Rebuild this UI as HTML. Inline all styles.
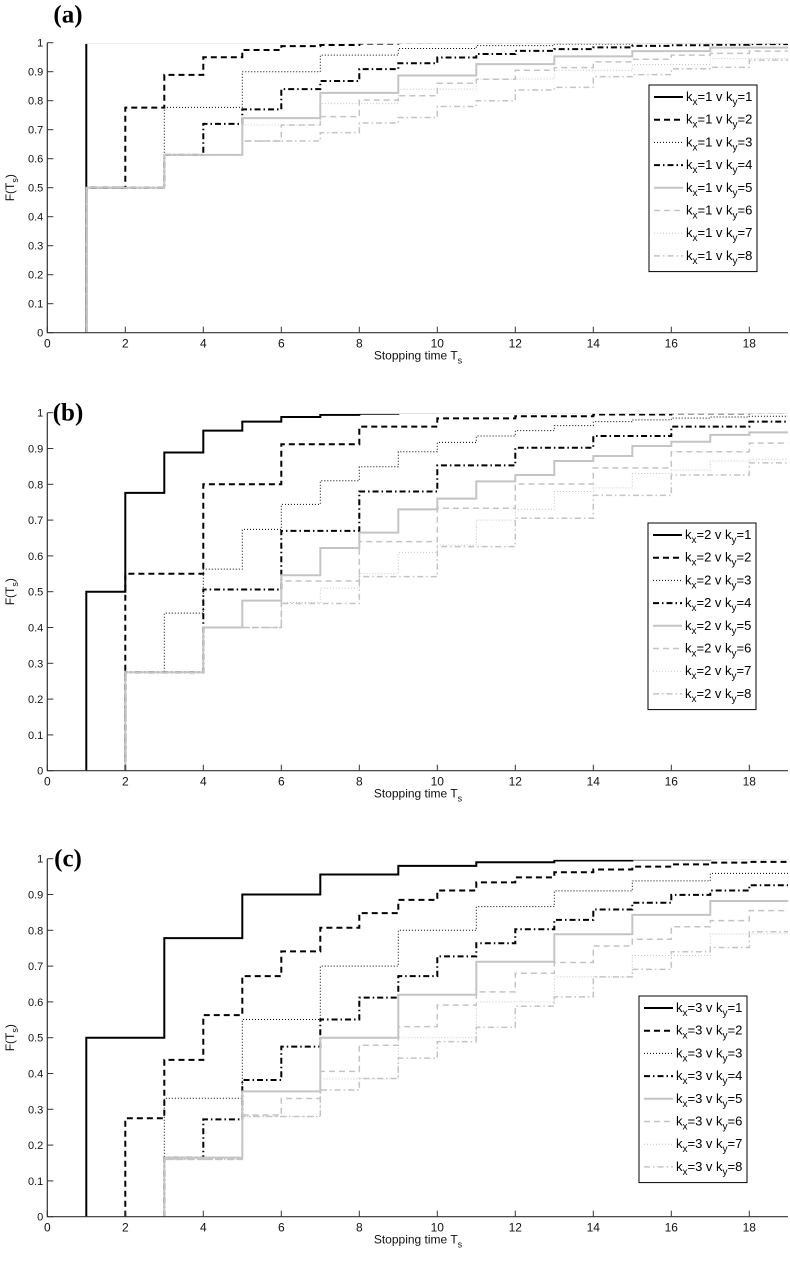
<!DOCTYPE html>
<html><head><meta charset="utf-8"><style>
html,body{margin:0;padding:0;background:#fff}
svg{display:block}
text{font-family:"Liberation Sans",sans-serif}
text.plabel{font-family:"Liberation Serif",serif;font-weight:bold}
</style></head><body>
<svg id="fig" width="790" height="1263" viewBox="0 0 790 1263" xmlns="http://www.w3.org/2000/svg"><defs id="defs"></defs></svg>
<script>
// ---- data (index i -> value of F on [t, t+1), t = i+1) ----
const xTicks = [0,2,4,6,8,10,12,14,16,18];
const yTicks = [0,0.1,0.2,0.3,0.4,0.5,0.6,0.7,0.8,0.9,1];
const yTickLabels = ["0","0.1","0.2","0.3","0.4","0.5","0.6","0.7","0.8","0.9","1"];

const A1 = [1,1,1,1,1,1,1,1,1,1,1,1,1,1,1,1,1,1];
const A2 = [.5,.776,.889,.95,.975,.988,.992,.997,.999,1,1,1,1,1,1,1,1,1];
const A3 = [.5,.5,.777,.777,.9,.9,.957,.957,.98,.98,.99,.99,.995,.995,.998,.998,.999,.999];
const A4 = [.5,.5,.613,.72,.77,.84,.868,.909,.929,.949,.961,.972,.978,.984,.989,.991,.993,.995];
const A5 = [.5,.5,.613,.613,.74,.74,.827,.827,.887,.887,.926,.926,.953,.953,.971,.971,.983,.983];
const A6 = [.5,.5,.613,.613,.661,.716,.745,.802,.817,.86,.874,.905,.914,.934,.943,.957,.963,.971];
const A7 = [.5,.5,.613,.613,.716,.716,.79,.79,.84,.84,.875,.875,.905,.905,.925,.925,.945,.945];
const A8 = [.5,.5,.613,.613,.661,.661,.69,.723,.742,.78,.8,.837,.846,.883,.89,.91,.915,.94];

const B1 = [.5,.776,.889,.95,.975,.988,.994,.997,.999,1,1,1,1,1,1,1,1,1];
const B2 = [0,.55,.55,.8,.8,.912,.912,.961,.961,.984,.984,.99,.99,.995,.995,.998,.998,.999];
const B3 = [0,.275,.44,.563,.674,.744,.81,.849,.891,.917,.935,.95,.964,.975,.98,.985,.988,.99];
const B4 = [0,.275,.275,.506,.506,.67,.67,.78,.78,.853,.853,.902,.902,.935,.935,.961,.961,.975];
const B5 = [0,.275,.275,.4,.475,.546,.622,.665,.73,.76,.808,.826,.865,.879,.907,.919,.938,.945];
const B6 = [0,.275,.275,.4,.4,.53,.53,.64,.64,.733,.733,.801,.801,.846,.846,.891,.891,.915];
const B7 = [0,.275,.275,.4,.4,.47,.51,.55,.61,.63,.7,.73,.78,.79,.83,.84,.865,.87];
const B8 = [0,.275,.275,.4,.4,.467,.467,.542,.542,.626,.626,.705,.705,.769,.769,.826,.826,.86];

const C1 = [.5,.5,.778,.778,.9,.9,.956,.956,.98,.98,.99,.99,.995,.995,.998,.998,1,1];
const C2 = [0,.275,.438,.563,.672,.741,.807,.848,.885,.911,.934,.948,.962,.97,.978,.984,.989,.991];
const C3 = [0,0,.331,.331,.551,.551,.7,.7,.8,.8,.866,.866,.91,.91,.938,.938,.959,.959];
const C4 = [0,0,.165,.272,.382,.475,.551,.612,.672,.727,.764,.803,.829,.858,.877,.899,.911,.926];
const C5 = [0,0,.165,.165,.35,.35,.5,.5,.62,.62,.712,.712,.789,.789,.843,.843,.882,.882];
const C6 = [0,0,.16,.16,.284,.33,.406,.479,.531,.591,.628,.68,.71,.756,.775,.81,.827,.855];
const C7 = [0,0,.16,.16,.28,.28,.385,.385,.5,.5,.6,.6,.67,.67,.73,.73,.79,.79];
const C8 = [0,0,.16,.16,.28,.28,.354,.386,.443,.489,.529,.588,.614,.67,.691,.74,.752,.796];

const NS = "http://www.w3.org/2000/svg";
const svg = document.getElementById('fig');
const defs = document.getElementById('defs');
const STY = [
 {c:'#000',w:2,d:''},
 {c:'#000',w:2,d:'6,4'},
 {c:'#000',w:1,d:'1,2'},
 {c:'#000',w:2,d:'6,3,1.5,3'},
 {c:'#c4c4c4',w:2,d:''},
 {c:'#c4c4c4',w:1.5,d:'6,4'},
 {c:'#c4c4c4',w:1,d:'1,2'},
 {c:'#c4c4c4',w:1.5,d:'6,3,1.5,3'}
];
function mk(tag, attrs, parent){
  const e = document.createElementNS(NS, tag);
  for (const k in attrs) e.setAttribute(k, attrs[k]);
  (parent||svg).appendChild(e);
  return e;
}
function panel(id, label, kx, series, top, bottom, leg){
  const x0 = 47.3, unit = 39, xEnd = 788;
  const xs = t => x0 + t*unit;
  const ys = v => bottom - v*(bottom-top);
  const cp = mk('clipPath', {id:'clip-'+id}, defs);
  mk('rect', {x:x0, y:top+1.2, width:xEnd-x0, height:bottom-top}, cp);
  const g = mk('g', {});
  
  
  const sg = mk('g', {'clip-path':'url(#clip-'+id+')'}, g);
  series.forEach((vals, si) => {
    let d = ''; let started = false;
    for (let i = 0; i < vals.length; i++) {
      const t = i+1, v = vals[i];
      if (!started) { if (v > 0) { d = 'M'+xs(t)+' '+ys(0)+' V'+ys(v)+' H'+Math.min(xs(t+1),xEnd); started = true; } }
      else { d += ' V'+ys(v)+' H'+Math.min(xs(t+1),xEnd); }
    }
    const s = STY[si];
    const p = mk('path', {d:d, fill:'none', stroke:s.c, 'stroke-width':s.w, 'stroke-dasharray':s.d}, sg);
    
    
  });
  const ax = mk('path', {d:'M'+x0+' '+top+' V'+bottom+' H'+xEnd, fill:'none', stroke:'#333', 'stroke-width':1.2}, g);
  
  
  xTicks.forEach(t => {
    mk('line', {x1:xs(t), x2:xs(t), y1:bottom, y2:bottom-6, stroke:'#333', 'stroke-width':1}, g);
    const tx = mk('text', {x:xs(t), y:bottom+15, 'font-size':12, 'text-anchor':'middle', fill:'#111'}, g);
    tx.textContent = t;
    
    
  });
  yTicks.forEach((v, i) => {
    mk('line', {x1:x0, x2:x0+6, y1:ys(v), y2:ys(v), stroke:'#333', 'stroke-width':1}, g);
    const tx = mk('text', {x:x0-4, y:ys(v)+4, 'font-size':11, 'text-anchor':'end', fill:'#111'}, g);
    tx.textContent = yTickLabels[i];
    
    
  });
  const yl = mk('text', {x:0, y:0, 'font-size':12, 'text-anchor':'middle', fill:'#111', transform:'translate(14,'+((top+bottom)/2)+') rotate(-90)'}, g);
  yl.innerHTML = 'F(T<tspan dy="4" font-size="9">s</tspan><tspan dy="-4">)</tspan>';
  
  
  const xl = mk('text', {x:418, y:bottom+27, 'font-size':12, 'text-anchor':'middle', fill:'#111'}, g);
  xl.innerHTML = 'Stopping time T<tspan dy="4" font-size="9">s</tspan>';
  
  
  const pl = mk('text', {x:68, y:top-(id==='a'?20:-8), 'font-size':25, 'text-anchor':'middle', fill:'#000', 'class':'plabel'}, g);
  pl.textContent = label;
  
  
  const lg = mk('g', {}, g);
  
  
  const lw = 108, rh = 22.7, lh = 8*rh + 5;
  mk('rect', {x:leg.x, y:leg.y, width:lw, height:lh, fill:'#fff', stroke:'#000', 'stroke-width':1}, lg);
  for (let k = 0; k < 8; k++) {
    const cy = leg.y + 12 + k*rh;
    const s = STY[k];
    mk('line', {x1:leg.x+5, x2:leg.x+34, y1:cy, y2:cy, stroke:s.c, 'stroke-width':s.w, 'stroke-dasharray':s.d}, lg);
    const tx = mk('text', {x:leg.x+37, y:cy+4, 'font-size':13, fill:'#000'}, lg);
    tx.innerHTML = 'k<tspan dy="4" font-size="10">x</tspan><tspan dy="-4">='+kx+' v k</tspan><tspan dy="4" font-size="10">y</tspan><tspan dy="-4">='+(k+1)+'</tspan>';
    
    
  }
}
panel('a', '(a)', 1, [A1,A2,A3,A4,A5,A6,A7,A8], 42.7, 332.7, {x:649, y:85});
panel('b', '(b)', 2, [B1,B2,B3,B4,B5,B6,B7,B8], 412.7, 770.7, {x:648, y:523});
panel('c', '(c)', 3, [C1,C2,C3,C4,C5,C6,C7,C8], 858.7, 1216.7, {x:639, y:996});
</script>
</body></html>
